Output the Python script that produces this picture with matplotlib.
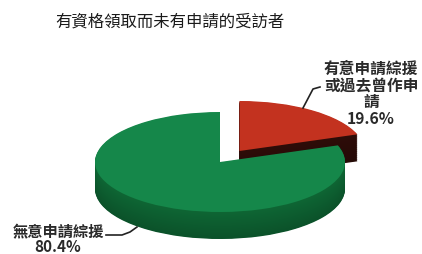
import matplotlib
matplotlib.use("Agg")
import matplotlib.pyplot as plt
import numpy as np

# ---- data ----
categories = ["有意申請綜援\n或過去曾作申\n請", "無意申請綜援"]
values = [19.6, 80.4]
pct_labels = ["19.6%", "80.4%"]
title = "有資格領取而未有申請的受訪者"

W, H = 422, 254
fig = plt.figure(figsize=(W / 100, H / 100), dpi=100)
fig.patch.set_facecolor("white")
ax = fig.add_axes([0, 0, 1, 1])

# pixel geometry of the pie (ellipse)
cx, cy, rx, ry = 220, 162, 125, 50
depth_px = 27

def px2data(x, y):
    return (x - cx) / rx, (cy - y) / ry

top_colors = ["#c3321f", "#15874a"]
side_colors = ["#2e0c08", "#0e6634"]
explode = [0.27, 0.0]

depth = depth_px / ry
nlayers = 40
for idx in [0, 1]:
    for k in range(nlayers, 0, -1):
        dy = depth * k / nlayers
        shade = 1 - 0.2 * (k / nlayers)
        c = np.array(matplotlib.colors.to_rgb(side_colors[idx])) * shade
        w, _ = ax.pie(values, startangle=90, counterclock=False, explode=explode,
                      radius=1, center=(0, -dy), colors=[c, c],
                      wedgeprops=dict(linewidth=0))
        for j, wd in enumerate(w):
            if j != idx:
                wd.set_visible(False)
    w, _ = ax.pie(values, startangle=90, counterclock=False, explode=explode,
                  radius=1, center=(0, 0), colors=top_colors,
                  wedgeprops=dict(linewidth=0))
    for j, wd in enumerate(w):
        if j != idx:
            wd.set_visible(False)

ax.set_aspect("auto")
x0, _ = px2data(0, 0)
x1, _ = px2data(W, 0)
_, y0 = px2data(0, H)
_, y1 = px2data(0, 0)
ax.set_xlim(x0, x1)
ax.set_ylim(y0, y1)
ax.axis("off")

font = ["Noto Sans CJK TC", "DejaVu Sans"]

def ftext(x, y, s, **kw):
    fig.text(x / W, 1 - y / H, s, family=font, **kw)

ftext(170, 22, title, fontsize=11.8, ha="center", va="center", color="#1a1a1a",
      fontweight="medium")

ftext(371, 94, categories[0] + "\n" + pct_labels[0], fontsize=11.3, ha="center",
      va="center", fontweight="bold", color="#2a2a2a", linespacing=1.05)
ftext(58, 240, categories[1] + "\n" + pct_labels[1], fontsize=11, ha="center",
      va="center", fontweight="bold", color="#2a2a2a", linespacing=0.9)

# leader lines
lx = [303, 313, 320]
ly = [108, 89, 87]
ax.plot(*px2data(np.array(lx), np.array(ly)), color="#222222", lw=1.2)
gx = [106, 122, 130, 137]
gy = [235, 235, 232, 227]
ax.plot(*px2data(np.array(gx), np.array(gy)), color="#222222", lw=1.2)

fig.savefig("out.png", dpi=100, facecolor="white")
